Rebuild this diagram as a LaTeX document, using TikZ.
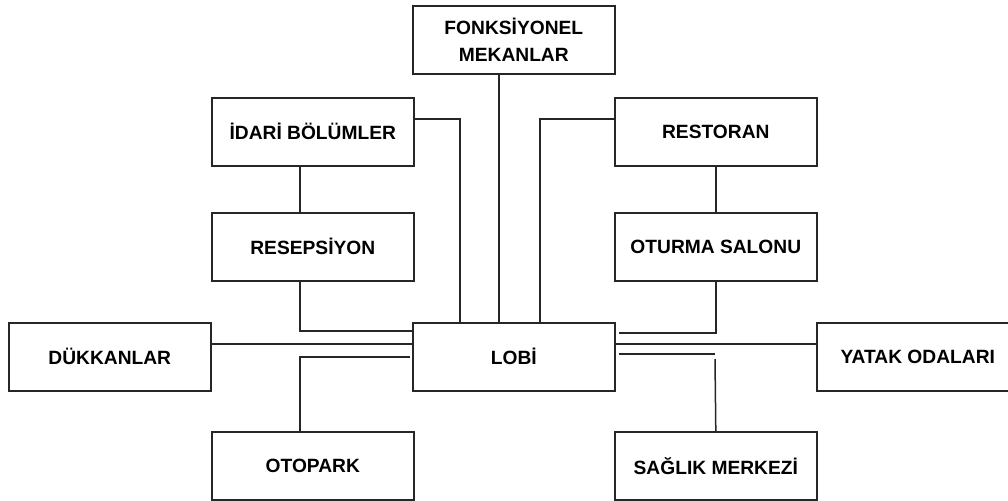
\documentclass[tikz,border=0pt]{standalone}
\usepackage{fontspec}
\setmainfont{Liberation Sans}
\usetikzlibrary{calc}
\begin{document}
\begin{tikzpicture}[x=1pt,y=-1pt,
  box/.style={draw=black!85, line width=1.6pt, inner sep=0pt, anchor=north west,
    minimum width=202pt, minimum height=68pt, align=center,
    font=\bfseries\fontsize{19.2}{26.5}\selectfont},
  link/.style={draw=black!85, line width=1.5pt}]
\useasboundingbox (0,0) rectangle (1008,500);
\clip (0,0) rectangle (1008,500);

% rooms
\node[box] (fonk)  at (412,5)   {FONKSİYONEL\\MEKANLAR};
\node[box] (idari) at (211,97)  {İDARİ BÖLÜMLER};
\node[box] (rest)  at (614,97)  {RESTORAN};
\node[box] (resep) at (211,212) {RESEPSİYON};
\node[box] (otur)  at (614,212) {OTURMA SALONU};
\node[box] (dukk)  at (8,322)   {DÜKKANLAR};
\node[box] (lobi)  at (412,322) {LOBİ};
\node[box] (yatak) at (816,322) {YATAK ODALARI};
\node[box] (otop)  at (211,431) {OTOPARK};
\node[box] (sag)   at (614,431) {SAĞLIK MERKEZİ};

% guide positions for the corridors
\coordinate (xl) at (300,0);
\coordinate (xm) at (499,0);
\coordinate (xa) at (460,0);
\coordinate (xb) at (540,0);
\coordinate (xr) at (715,0);
\coordinate (yt) at (0,119);
\coordinate (ya) at (0,331);
\coordinate (yb) at (0,344);
\coordinate (yc) at (0,357);
\coordinate (yd) at (0,333);
\coordinate (ye) at (0,354);
\coordinate (yf) at (0,359);

% connections
\draw[link] (idari.south -| xl) -- (resep.north -| xl);
\draw[link] (rest.south) -- (otur.north);
\draw[link] (fonk.south -| xm) -- (lobi.north -| xm);
\draw[link] (idari.east |- yt) -| (lobi.north -| xa);
\draw[link] (rest.west |- yt) -| (lobi.north -| xb);
\draw[link] (resep.south -| xl) |- (lobi.west |- ya);
\draw[link] (dukk.east |- yb) -- (lobi.west |- yb);
\draw[link] ($(lobi.west |- yc)+(-2,0)$) -| (otop.north -| xl);
\draw[link] (otur.south) |- ($(lobi.east |- yd)+(3,0)$);
\draw[link] (lobi.east |- yb) -- (yatak.west |- yb);
\draw[link] ($(lobi.east |- ye)+(3,0)$) -- (ye -| xr);
\draw[link] (yf -| xr) -- (sag.north);
\end{tikzpicture}
\end{document}
